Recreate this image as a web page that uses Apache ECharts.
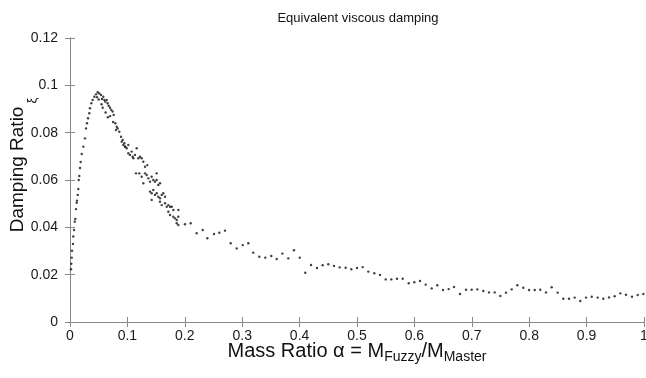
<!DOCTYPE html>
<html>
<head>
<meta charset="utf-8">
<script src="https://cdn.jsdelivr.net/npm/echarts@6/dist/echarts.min.js"></script>
<style>html,body{margin:0;padding:0;background:#fff}#c{width:646px;height:378px}</style>
</head>
<body>
<div id="c"></div>
<script>
var titleText = 'Equivalent viscous damping';
var xTicks = [0, 0.1, 0.2, 0.3, 0.4, 0.5, 0.6, 0.7, 0.8, 0.9, 1];
var yTicks = [0, 0.02, 0.04, 0.06, 0.08, 0.1, 0.12];

// rising branch
var risingX = [0.0017,0.0023,0.003,0.0035,0.0052,0.0057,0.007,0.0082,0.0092,0.0105,0.0117,0.0122,0.0134,0.0145,0.0152,0.0162,0.0174,0.0186,0.0204,0.0232,0.0261,0.0279,0.0296,0.0314,0.0336,0.0348,0.0371,0.0395,0.0423,0.0453,0.0483];
var risingY = [0.0223,0.0246,0.0272,0.0301,0.033,0.0361,0.0389,0.0424,0.0435,0.0477,0.0504,0.0513,0.0537,0.0562,0.06,0.0617,0.0651,0.0676,0.071,0.0741,0.0776,0.0818,0.084,0.0861,0.0882,0.0903,0.0924,0.0938,0.0952,0.0962,0.0971];

// peak and falling cloud
var cloudX = [0.051,0.054,0.0557,0.058,0.0598,0.0615,0.0639,0.0656,0.0674,0.0697,0.072,0.0744,0.0761,0.0789,0.0814,0.0801,0.0831,0.0859,0.0889,0.0918,0.0946,0.0963,0.057,0.062,0.066,0.07,0.075,0.05,0.047,0.055,
0.0901,0.0929,0.0958,0.0988,0.1016,0.1016,0.1045,0.1075,0.1092,0.1103,0.1132,0.1162,0.119,0.122,0.1249,0.1277,0.1307,0.1347,0.115,0.1207,0.1249,0.1277,0.1307,0.1336,0.1364,0.1394,0.1423,0.1451,0.1481,0.151,0.151,0.1538,0.1568,0.1394,0.1423,0.1451,0.1481,0.151,0.1538,0.1568,0.1598,0.1625,0.1655,0.1423,0.1568,0.1598,0.1655,0.1685,0.1713,0.1742,0.1772,0.18,0.1713,0.1742,0.18,0.1829,0.1859,0.1887,0.1887,0.1859,0.1887];
var cloudY = [0.0966,0.0959,0.0942,0.0952,0.0938,0.0931,0.0938,0.0924,0.0914,0.0905,0.0896,0.0889,0.0875,0.084,0.0825,0.0811,0.0818,0.0804,0.0783,0.0769,0.0755,0.0741,0.0905,0.0885,0.0865,0.087,0.0845,0.094,0.095,0.092,
0.0762,0.0748,0.0741,0.0734,0.0713,0.0748,0.0706,0.072,0.0698,0.0692,0.0706,0.0734,0.0692,0.0698,0.0692,0.0677,0.0656,0.0663,0.0628,0.0628,0.0614,0.0586,0.0628,0.0621,0.0607,0.0593,0.0614,0.06,0.0593,0.0628,0.06,0.0579,0.0586,0.0551,0.0544,0.0558,0.0537,0.0544,0.0529,0.0523,0.0537,0.0544,0.0529,0.0516,0.0508,0.0494,0.0502,0.0487,0.0494,0.0487,0.0487,0.0473,0.0466,0.0452,0.0445,0.0438,0.0431,0.0473,0.0445,0.0417,0.041];

// sparse tail
var tailX = [0.2003,0.2103,0.2207,0.2312,0.2392,0.2509,0.2601,0.27,0.28,0.2904,0.3009,0.3106,0.3193,0.3298,0.3402,0.3507,0.3601,0.3699,0.3803,0.3902,0.4002,0.4099,0.4199,0.4303,0.4402,0.45,0.4599,0.4699,0.4803,0.4901,0.5,0.5099,0.5197,0.5301,0.5401,0.55,0.5598,0.5697,0.5796,0.5901,0.5998,0.6098,0.6197,0.6301,0.6399,0.6498,0.6597,0.669,0.6794,0.6899,0.6998,0.7096,0.72,0.73,0.7399,0.7497,0.7596,0.7695,0.7793,0.7897,0.7997,0.8096,0.8193,0.8293,0.8392,0.8497,0.8594,0.8693,0.8793,0.889,0.899,0.9089,0.9193,0.9291,0.939,0.9489,0.9587,0.9686,0.9791,0.989,0.9988];
var tailY = [0.0413,0.0417,0.0375,0.0389,0.0354,0.0372,0.0377,0.0386,0.0333,0.0311,0.0325,0.0333,0.0293,0.0276,0.0272,0.0279,0.0266,0.0289,0.0269,0.0303,0.0272,0.0208,0.0241,0.0228,0.024,0.0244,0.0237,0.0231,0.0229,0.0223,0.0228,0.0232,0.0213,0.0206,0.0199,0.018,0.018,0.0183,0.0183,0.0164,0.0168,0.0173,0.0158,0.0142,0.0155,0.0135,0.0139,0.0148,0.0118,0.0136,0.0136,0.0138,0.0131,0.0125,0.0125,0.011,0.0124,0.0138,0.0155,0.0145,0.0135,0.0135,0.0136,0.0125,0.0147,0.0124,0.0098,0.0098,0.0103,0.0089,0.0103,0.0107,0.0103,0.0098,0.0104,0.0109,0.0121,0.0115,0.0107,0.0114,0.0118];

function pairs(xs, ys) { return xs.map(function (x, i) { return [x, ys[i]]; }); }
var allData = pairs(risingX, risingY).concat(pairs(cloudX, cloudY), pairs(tailX, tailY));

var FONT = 'Liberation Sans, Arial, sans-serif';
var AX = '#8a8a8a';
var xMin = xTicks[0], xMax = xTicks[xTicks.length - 1], xInt = xTicks[1] - xTicks[0];
var yMin = yTicks[0], yMax = yTicks[yTicks.length - 1], yInt = yTicks[1] - yTicks[0];

function baseAxis(extra, labelMargin) {
  var a = {
    type: 'value',
    axisLine: { show: true, lineStyle: { color: AX, width: 1 } },
    axisTick: { show: true, inside: true, length: 5, lineStyle: { color: AX } },
    splitLine: { show: false },
    axisLabel: { color: '#1a1a1a', fontSize: 14, fontFamily: FONT, margin: labelMargin || 7 }
  };
  for (var k in extra) a[k] = extra[k];
  return a;
}

var chart = echarts.init(document.getElementById('c'), null, { renderer: 'canvas' });
chart.setOption({
  animation: false,
  backgroundColor: '#fff',
  title: {
    text: titleText, left: 353, top: 7, textAlign: 'center',
    textStyle: { fontFamily: FONT, fontSize: 13, fontWeight: 'normal', color: '#111' }
  },
  grid: { left: 70, right: 2, top: 38, bottom: 56, containLabel: false, outerBoundsMode: 'none' },
  xAxis: [
    baseAxis({ min: xMin, max: xMax, interval: xInt, position: 'bottom',
      name: '{m|Mass Ratio α = M}{s|Fuzzy}{m|/M}{s|Master}',
      nameLocation: 'middle', nameGap: 16, nameMoveOverlap: false,
      nameTextStyle: { fontFamily: FONT, color: '#111',
        rich: {
          m: { fontSize: 20, fontFamily: FONT, color: '#111' },
          s: { fontSize: 14, fontFamily: FONT, color: '#111', padding: [12, 0, 0, 0] }
        } } }, 7),
    baseAxis({ min: xMin, max: xMax, interval: xInt, position: 'top', axisLabel: { show: false } })
  ],
  yAxis: [
    baseAxis({ min: yMin, max: yMax, interval: yInt, position: 'left',
      name: '{m|Damping Ratio}{s|ξ}',
      nameLocation: 'middle', nameGap: 31, nameMoveOverlap: false,
      nameTextStyle: { fontFamily: FONT, color: '#111', padding: [0, 0, 0, 30],
        rich: {
          m: { fontSize: 19, fontFamily: FONT, color: '#111' },
          s: { fontSize: 13, fontFamily: FONT, color: '#111', padding: [30, 0, 0, 3] }
        } } }, 12),
    baseAxis({ min: yMin, max: yMax, interval: yInt, position: 'right', axisLabel: { show: false } })
  ],
  series: [{
    type: 'scatter',
    xAxisIndex: 0, yAxisIndex: 0,
    data: allData,
    symbol: 'circle',
    symbolSize: 2.4,
    itemStyle: { color: '#111' },
    silent: true
  }]
});
</script>
</body>
</html>
